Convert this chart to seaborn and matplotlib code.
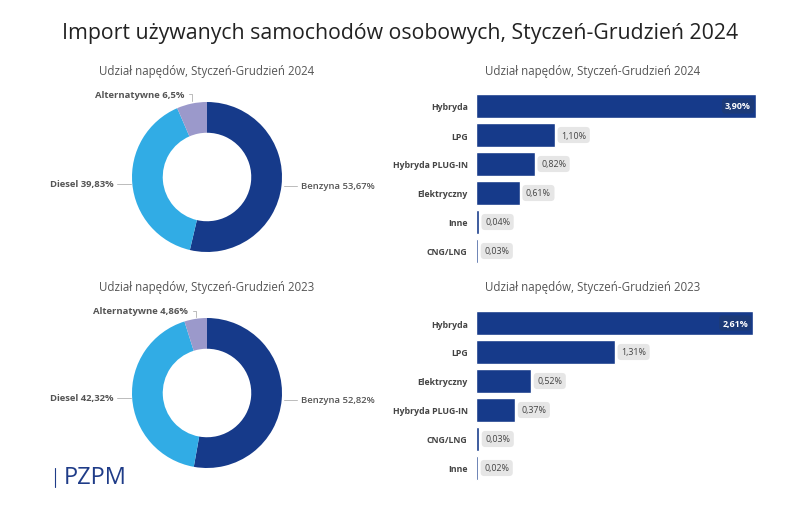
import numpy as np
import pandas as pd
import matplotlib
matplotlib.use("Agg")
import matplotlib.pyplot as plt
import seaborn as sns

# donut data
pie_labels = ["Benzyna", "Diesel", "Alternatywne"]
pie_2024 = [53.67, 39.83, 6.5]
pie_2024_txt = ["53,67%", "39,83%", "6,5%"]
pie_2023 = [52.82, 42.32, 4.86]
pie_2023_txt = ["52,82%", "42,32%", "4,86%"]
pie_colors = ["#163a8a", "#31ace5", "#9b99cb"]

# alternative drives data
alt_2024 = ["Hybryda", "LPG", "Hybryda PLUG-IN", "Elektryczny", "Inne", "CNG/LNG"]
alt_2024_val = [3.90, 1.10, 0.82, 0.61, 0.04, 0.03]
alt_2023 = ["Hybryda", "LPG", "Elektryczny", "Hybryda PLUG-IN", "CNG/LNG", "Inne"]
alt_2023_val = [2.61, 1.31, 0.52, 0.37, 0.03, 0.02]

title = "Import używanych samochodów osobowych, Styczeń-Grudzień 2024"
sub_2024 = "Udział napędów, Styczeń-Grudzień 2024"
sub_2023 = "Udział napędów, Styczeń-Grudzień 2023"

sns.set_theme(style="white")
plt.rcParams["font.family"] = ["Open Sans", "DejaVu Sans"]

W, H = 800, 510
fig = plt.figure(figsize=(W / 100, H / 100), dpi=100)


def px_axes(left, top, width, height):
    # axes placed in pixel coordinates measured from top-left
    return fig.add_axes([left / W, (H - top - height) / H, width / W, height / H])


def fmt(v):
    return f"{v:.2f}".replace(".", ",") + "%"


def donut(cx, cy, values, texts):
    ax = px_axes(cx - 75, cy - 75, 150, 150)
    wedges, _ = ax.pie(values, colors=pie_colors, startangle=90, counterclock=False,
                       radius=1.0, wedgeprops=dict(width=0.41, edgecolor="none"))
    ax.set_xlim(-1, 1)
    ax.set_ylim(-1, 1)
    for w, name, t in zip(wedges, pie_labels, texts):
        ang = np.deg2rad((w.theta1 + w.theta2) / 2)
        mx, my = np.cos(ang), np.sin(ang)
        label = f"{name} {t}"
        if my > 0.9:
            ax.plot([mx, mx, mx - 0.04], [1.01, 1.1, 1.1], color="#bbbbbb", lw=0.7, clip_on=False)
            ax.text(mx - 0.1, 1.1, label, ha="right", va="center", fontsize=6.8,
                    fontweight="bold", color="#555555")
        else:
            side = 1 if mx > 0 else -1
            ax.plot([side * 1.02, side * 1.2], [my, my], color="#bbbbbb", lw=0.7, clip_on=False)
            ax.text(side * 1.25, my, label, ha="left" if side > 0 else "right", va="center",
                    fontsize=6.8, fontweight="semibold" if side > 0 else "bold", color="#555555")


def bars(top, width, cats, vals):
    ax = px_axes(476, top, width, 174)
    df = pd.DataFrame({"cat": cats, "val": vals})
    sns.barplot(data=df, x="val", y="cat", color="#163a8a", width=0.8, saturation=1, ax=ax)
    vmax = max(vals)
    ax.set_xlim(0, vmax)
    ax.set_ylim(5.5, -0.5)
    ax.set_xlabel("")
    ax.set_ylabel("")
    ax.set_xticks([])
    for s in ax.spines.values():
        s.set_visible(False)
    ax.tick_params(axis="y", length=0, pad=6)
    for lab in ax.get_yticklabels():
        lab.set_fontsize(6.3)
        lab.set_fontweight("bold")
        lab.set_color("#444444")
    for i, v in enumerate(vals):
        if v == vmax:
            ax.text(v - vmax * 0.018, i, fmt(v), ha="right", va="center", fontsize=6.4,
                    fontweight="bold", color="white",
                    bbox=dict(boxstyle="round,pad=0.35", fc="#1c3a78", ec="none"))
        else:
            ax.text(v + vmax * 0.022, i, fmt(v), ha="left", va="center", fontsize=6.4,
                    color="#444444",
                    bbox=dict(boxstyle="round,pad=0.4", fc="#e6e6e6", ec="none"))


fig.text(0.5, 1 - 33 / H, title, ha="center", va="center", fontsize=15.3, color="#222222")
fig.text(207 / W, 1 - 72 / H, sub_2024, ha="center", va="center", fontsize=8.3, color="#555555")
fig.text(593 / W, 1 - 72 / H, sub_2024, ha="center", va="center", fontsize=8.3, color="#555555")
fig.text(207 / W, 1 - 288 / H, sub_2023, ha="center", va="center", fontsize=8.3, color="#555555")
fig.text(593 / W, 1 - 288 / H, sub_2023, ha="center", va="center", fontsize=8.3, color="#555555")

donut(207, 178, pie_2024, pie_2024_txt)
donut(207, 394, pie_2023, pie_2023_txt)
bars(92.5, 280, alt_2024, alt_2024_val)
bars(309.5, 277, alt_2023, alt_2023_val)

# logo
fig.text(64 / W, 1 - 478 / H, "PZPM", ha="left", va="center", fontsize=17, color="#1f3c88")
fig.add_artist(plt.Line2D([55 / W, 55 / W], [1 - 469 / H, 1 - 488 / H], color="#1f3c88", lw=0.8))

fig.savefig("out.png", dpi=100, facecolor="white")
